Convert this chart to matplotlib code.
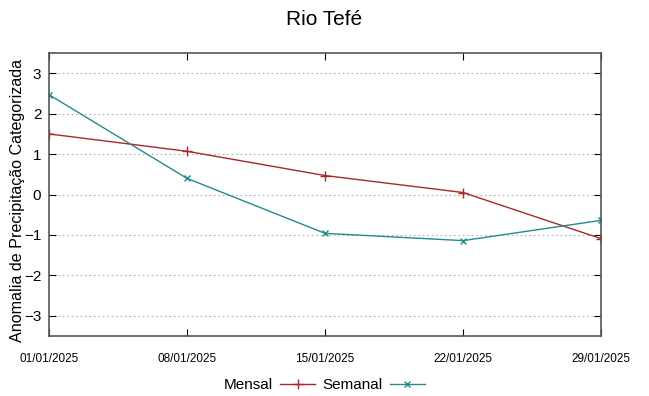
import matplotlib
matplotlib.use('Agg')
import matplotlib.pyplot as plt
import matplotlib.dates as mdates
import pandas as pd

# --- Data ---
dates = ["2025-01-01", "2025-01-08", "2025-01-15", "2025-01-22", "2025-01-29"]
mensal = [1.50, 1.07, 0.47, 0.05, -1.09]
semanal = [2.47, 0.40, -0.96, -1.14, -0.64]
title = "Rio Tefé"
ylabel = "Anomalia de Precipitação Categorizada"

plt.rcParams['font.family'] = ['Liberation Sans', 'DejaVu Sans']

x = pd.to_datetime(dates)

fig = plt.figure(figsize=(6.49, 3.96), dpi=100)
ax = fig.add_axes([0.0755, 0.1515, 0.8505, 0.7145])

ax.plot(x, mensal, color='#a8262b', lw=1, marker='+', ms=7, mew=1, label='Mensal')
ax.plot(x, semanal, color='#228b8b', lw=1, marker='x', ms=5, mew=1, label='Semanal')

ax.set_xlim(x[0], x[-1])
ax.set_ylim(-3.5, 3.5)
ax.set_yticks(range(-3, 4))
ax.set_xticks(x)
ax.xaxis.set_major_formatter(mdates.DateFormatter('%d/%m/%Y'))

ax.grid(axis='y', color='#b0b0b0', ls=(0, (1.5, 2.5)), lw=0.8)
for s in ax.spines.values():
    s.set_color('#555555')
    s.set_linewidth(1.2)
ax.tick_params(axis='y', direction='in', right=True, length=5, labelsize=11, pad=5.5)
ax.tick_params(axis='x', direction='in', top=True, length=5, labelsize=8.5, pad=12)

ax.set_ylabel(ylabel, fontsize=11.6)
ax.yaxis.set_label_coords(-0.0435, 0.48)
fig.suptitle(title, fontsize=15, y=0.975)

fig.legend(loc='lower center', ncol=2, frameon=False, markerfirst=False,
           bbox_to_anchor=(0.5, -0.025), fontsize=11, handlelength=2.3,
           columnspacing=0.5, handletextpad=0.45)

fig.savefig('out.png', dpi=100)
